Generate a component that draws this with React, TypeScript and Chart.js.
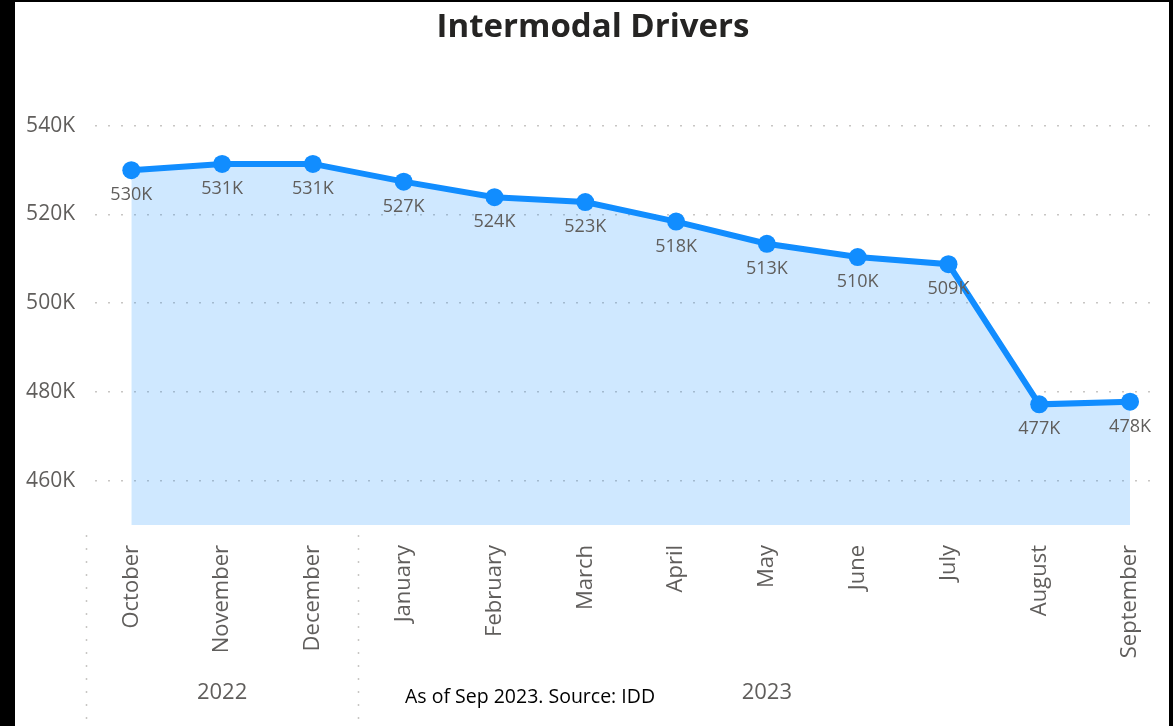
import React, { useEffect, useRef } from "react";
import { Chart, registerables } from "chart.js";

Chart.register(...registerables);

const MONTHS = ["October", "November", "December", "January", "February", "March", "April", "May", "June", "July", "August", "September"];
const DRIVERS_K = [530.0, 531.4, 531.4, 527.4, 523.9, 522.8, 518.4, 513.4, 510.4, 508.8, 477.2, 477.8];
const DATA_LABELS = ["530K", "531K", "531K", "527K", "524K", "523K", "518K", "513K", "510K", "509K", "477K", "478K"];
const Y_TICKS = [460, 480, 500, 520, 540];
const YEARS = ["2022", "2023"];
const YEAR_START = [0, 3];
const YEAR_END = [2, 11];
const TITLE = "Intermodal Drivers";
const CAPTION = "As of Sep 2023. Source: IDD";

const FONT = "'Open Sans', 'Noto Sans', sans-serif";
const BLUE = "#118DFF";
const GREY_TEXT = "#605E5C";

const overlayPlugin = {
  id: "overlay",
  afterDatasetsDraw(chart: any) {
    const ctx = chart.ctx;
    const meta = chart.getDatasetMeta(0);
    ctx.save();
    ctx.font = `18px ${FONT}`;
    ctx.fillStyle = GREY_TEXT;
    ctx.textAlign = "center";
    ctx.textBaseline = "middle";
    meta.data.forEach((pt: any, i: number) => {
      ctx.fillText(DATA_LABELS[i], pt.x, pt.y + 25);
    });
    ctx.restore();
  },
  afterDraw(chart: any) {
    const ctx = chart.ctx;
    const xs = chart.scales.x;
    const bottom = chart.chartArea.bottom;
    ctx.save();
    ctx.strokeStyle = "#C8C6C4";
    ctx.lineWidth = 1.5;
    ctx.setLineDash([2, 11]);
    YEAR_START.forEach((s) => {
      const x = Math.round(xs.getPixelForValue(s - 0.5)) + 0.5;
      ctx.beginPath();
      ctx.moveTo(x, bottom + 10);
      ctx.lineTo(x, chart.height);
      ctx.stroke();
    });
    ctx.setLineDash([]);
    ctx.font = `22px ${FONT}`;
    ctx.fillStyle = GREY_TEXT;
    ctx.textAlign = "center";
    ctx.textBaseline = "middle";
    YEARS.forEach((y, i) => {
      const x = xs.getPixelForValue((YEAR_START[i] + YEAR_END[i]) / 2);
      ctx.fillText(y, x, 693);
    });
    ctx.font = `19.5px ${FONT}`;
    ctx.fillStyle = "#000000";
    ctx.textAlign = "left";
    ctx.fillText(CAPTION, 405, 697);
    // frame
    ctx.fillStyle = "#000000";
    ctx.fillRect(0, 0, 15, chart.height);
    ctx.fillRect(0, 0, chart.width, 2);
    ctx.fillRect(chart.width - 4, 0, 4, chart.height);
    ctx.restore();
  },
};

export default function App() {
  const ref = useRef<HTMLCanvasElement | null>(null);

  useEffect(() => {
    document.body.style.margin = "0";
    if (!ref.current) return;
    const chart = new Chart(ref.current, {
      type: "line",
      data: {
        datasets: [
          {
            data: DRIVERS_K.map((v, i) => ({ x: i, y: v })),
            borderColor: BLUE,
            backgroundColor: "rgba(17,141,255,0.2)",
            borderWidth: 6,
            pointRadius: 9,
            pointBackgroundColor: BLUE,
            pointBorderColor: BLUE,
            pointBorderWidth: 0,
            fill: "start",
            tension: 0,
          },
        ],
      },
      options: {
        responsive: false,
        animation: false,
        layout: { padding: { left: 26, right: 13, top: 0, bottom: 0 } },
        plugins: {
          legend: { display: false },
          tooltip: { enabled: false },
          title: {
            display: true,
            text: TITLE,
            color: "#252423",
            font: { family: FONT, size: 33, weight: "bold" },
            padding: { top: 8, bottom: 56 },
          },
        },
        scales: {
          x: {
            type: "linear",
            min: -0.4,
            max: 11.33,
            grid: { display: false },
            border: { display: false },
            afterBuildTicks: (scale: any) => {
              scale.ticks = MONTHS.map((_, i) => ({ value: i }));
            },
            afterFit: (scale: any) => {
              scale.height = 201;
            },
            ticks: {
              autoSkip: false,
              maxRotation: 90,
              minRotation: 90,
              padding: 12,
              color: GREY_TEXT,
              font: { family: FONT, size: 22 },
              callback: (v: any) => MONTHS[Math.round(Number(v))] ?? "",
            },
          },
          y: {
            type: "linear",
            min: 450,
            max: 545,
            afterBuildTicks: (scale: any) => {
              scale.ticks = Y_TICKS.map((v) => ({ value: v }));
            },
            afterFit: (scale: any) => {
              scale.width = 69;
            },
            grid: {
              color: "#C8C6C4",
              lineWidth: 1.5,
              drawTicks: false,
            },
            border: { display: false, dash: [2, 11] },
            ticks: {
              padding: 20,
              color: GREY_TEXT,
              font: { family: FONT, size: 21 },
              callback: (v: any) => `${v}K`,
            },
          },
        },
      },
      plugins: [overlayPlugin],
    } as any);
    return () => chart.destroy();
  }, []);

  return (
    <div style={{ width: 1173, height: 726, background: "#fff", overflow: "hidden" }}>
      <canvas ref={ref} width={1173} height={726} style={{ display: "block" }} />
    </div>
  );
}
